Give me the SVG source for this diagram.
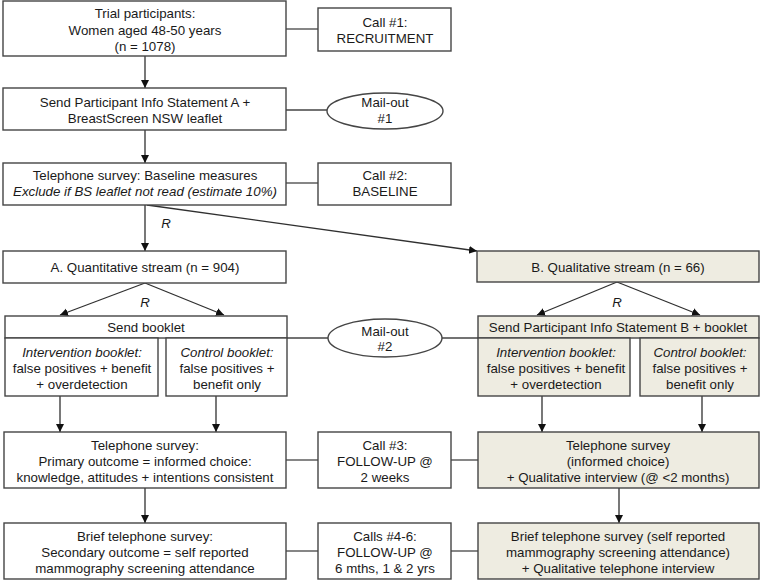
<svg xmlns="http://www.w3.org/2000/svg" width="762" height="581" viewBox="0 0 762 581">
<defs>
<marker id="ah" markerUnits="userSpaceOnUse" markerWidth="9" markerHeight="9" refX="8" refY="4" orient="auto">
<path d="M0,0 L8,4 L0,8 z" fill="#111"/>
</marker>
<style>
rect,ellipse{fill:#fff;stroke:#454545;stroke-width:1.4}
.q{fill:#EEECE1}
line{stroke:#454545;stroke-width:1.3}
.arr{stroke:#303030;marker-end:url(#ah)}
text{font-family:"Liberation Sans",Arial,sans-serif;font-size:13.3px;fill:#1a1a1a;text-anchor:middle}
.i{font-style:italic}
</style>
</defs>
<g id="connectors">
<line class="arr" x1="145" y1="56" x2="145" y2="88"/>
<line class="arr" x1="145" y1="130" x2="145" y2="163"/>
<line class="arr" x1="145" y1="205" x2="145" y2="251"/>
<line class="arr" x1="147" y1="205" x2="477" y2="251"/>
<line class="arr" x1="145" y1="283" x2="60" y2="315"/>
<line class="arr" x1="145" y1="283" x2="224" y2="315"/>
<line class="arr" x1="617" y1="282" x2="537" y2="315"/>
<line class="arr" x1="617" y1="282" x2="700" y2="315"/>
<line class="arr" x1="60" y1="396" x2="60" y2="432"/>
<line class="arr" x1="216" y1="396" x2="216" y2="432"/>
<line class="arr" x1="542" y1="396" x2="542" y2="432"/>
<line class="arr" x1="702" y1="396" x2="702" y2="432"/>
<line class="arr" x1="145" y1="488" x2="145" y2="523"/>
<line class="arr" x1="619" y1="488" x2="619" y2="523"/>
<line x1="286" y1="29" x2="318" y2="29"/>
<line x1="286" y1="110" x2="327" y2="110"/>
<line x1="286" y1="183" x2="318" y2="183"/>
<line x1="287" y1="338" x2="328" y2="338"/>
<line x1="442" y1="338" x2="478" y2="338"/>
<line x1="286" y1="460" x2="318" y2="460"/>
<line x1="451" y1="460" x2="478" y2="460"/>
<line x1="286" y1="551" x2="318" y2="551"/>
<line x1="451" y1="551" x2="478" y2="551"/>
<text class="i" x="166" y="228">R</text>
<text class="i" x="145" y="307">R</text>
<text class="i" x="617" y="307">R</text>
</g>
<g id="trial">
<rect x="3" y="1" width="283" height="55"/>
<text x="145" y="18">Trial participants:</text>
<text x="145" y="34.5">Women aged 48-50 years</text>
<text x="145" y="51">(n = 1078)</text>
</g>
<g id="call1">
<rect x="318" y="8" width="133" height="43"/>
<text x="385" y="27">Call #1:</text>
<text x="385" y="43">RECRUITMENT</text>
</g>
<g id="sendA1">
<rect x="3" y="88" width="283" height="42"/>
<text x="145" y="107">Send Participant Info Statement A +</text>
<text x="145" y="123">BreastScreen NSW leaflet</text>
</g>
<g id="mail1">
<ellipse cx="385" cy="111" rx="58" ry="18"/>
<text x="385" y="107">Mail-out</text>
<text x="385" y="123">#1</text>
</g>
<g id="baseline">
<rect x="3" y="163" width="283" height="42"/>
<text x="145" y="180">Telephone survey: Baseline measures</text>
<text class="i" x="145" y="196">Exclude if BS leaflet not read (estimate 10%)</text>
</g>
<g id="call2">
<rect x="318" y="163" width="133" height="42"/>
<text x="385" y="180">Call #2:</text>
<text x="385" y="196">BASELINE</text>
</g>
<g id="streamA">
<rect x="3" y="251" width="283" height="32"/>
<text x="145" y="272">A. Quantitative stream (n = 904)</text>
</g>
<g id="streamB">
<rect class="q" x="477" y="251" width="282" height="31"/>
<text x="618" y="272">B. Qualitative stream (n = 66)</text>
</g>
<g id="sendBookletA">
<rect x="5" y="316" width="282" height="22"/>
<text x="146" y="332">Send booklet</text>
</g>
<g id="intA">
<rect x="5" y="338" width="153" height="58"/>
<text class="i" x="82" y="357">Intervention booklet:</text>
<text x="82" y="373">false positives + benefit</text>
<text x="82" y="389">+ overdetection</text>
</g>
<g id="ctlA">
<rect x="166" y="338" width="121" height="58"/>
<text class="i" x="227" y="357">Control booklet:</text>
<text x="227" y="373">false positives +</text>
<text x="227" y="389">benefit only</text>
</g>
<g id="mail2">
<ellipse cx="385" cy="338" rx="57" ry="19"/>
<text x="385" y="336">Mail-out</text>
<text x="385" y="351">#2</text>
</g>
<g id="sendBookletB">
<rect class="q" x="478" y="316" width="281" height="22"/>
<text x="618" y="332">Send Participant Info Statement B + booklet</text>
</g>
<g id="intB">
<rect class="q" x="478" y="338" width="152" height="58"/>
<text class="i" x="556" y="357">Intervention booklet:</text>
<text x="556" y="373">false positives + benefit</text>
<text x="556" y="389">+ overdetection</text>
</g>
<g id="ctlB">
<rect class="q" x="640" y="338" width="119" height="58"/>
<text class="i" x="700" y="357">Control booklet:</text>
<text x="700" y="373">false positives +</text>
<text x="700" y="389">benefit only</text>
</g>
<g id="telA">
<rect x="4" y="432" width="282" height="56"/>
<text x="145" y="450">Telephone survey:</text>
<text x="145" y="466">Primary outcome = informed choice:</text>
<text x="145" y="482">knowledge, attitudes + intentions consistent</text>
</g>
<g id="call3">
<rect x="318" y="432" width="133" height="56"/>
<text x="385" y="450">Call #3:</text>
<text x="385" y="466">FOLLOW-UP @</text>
<text x="385" y="482">2 weeks</text>
</g>
<g id="telB">
<rect class="q" x="478" y="432" width="281" height="56"/>
<text x="618" y="450">Telephone survey</text>
<text x="618" y="466">(informed choice)</text>
<text x="618" y="482">+ Qualitative interview (@ &lt;2 months)</text>
</g>
<g id="briefA">
<rect x="4" y="523" width="282" height="56"/>
<text x="145" y="541">Brief telephone survey:</text>
<text x="145" y="557">Secondary outcome = self reported</text>
<text x="145" y="573">mammography screening attendance</text>
</g>
<g id="calls46">
<rect x="318" y="523" width="133" height="56"/>
<text x="385" y="541">Calls #4-6:</text>
<text x="385" y="557">FOLLOW-UP @</text>
<text x="385" y="573">6 mths, 1 &amp; 2 yrs</text>
</g>
<g id="briefB">
<rect class="q" x="478" y="523" width="281" height="56"/>
<text x="618" y="541">Brief telephone survey (self reported</text>
<text x="618" y="557">mammography screening attendance)</text>
<text x="618" y="573">+ Qualitative telephone interview</text>
</g>
</svg>
